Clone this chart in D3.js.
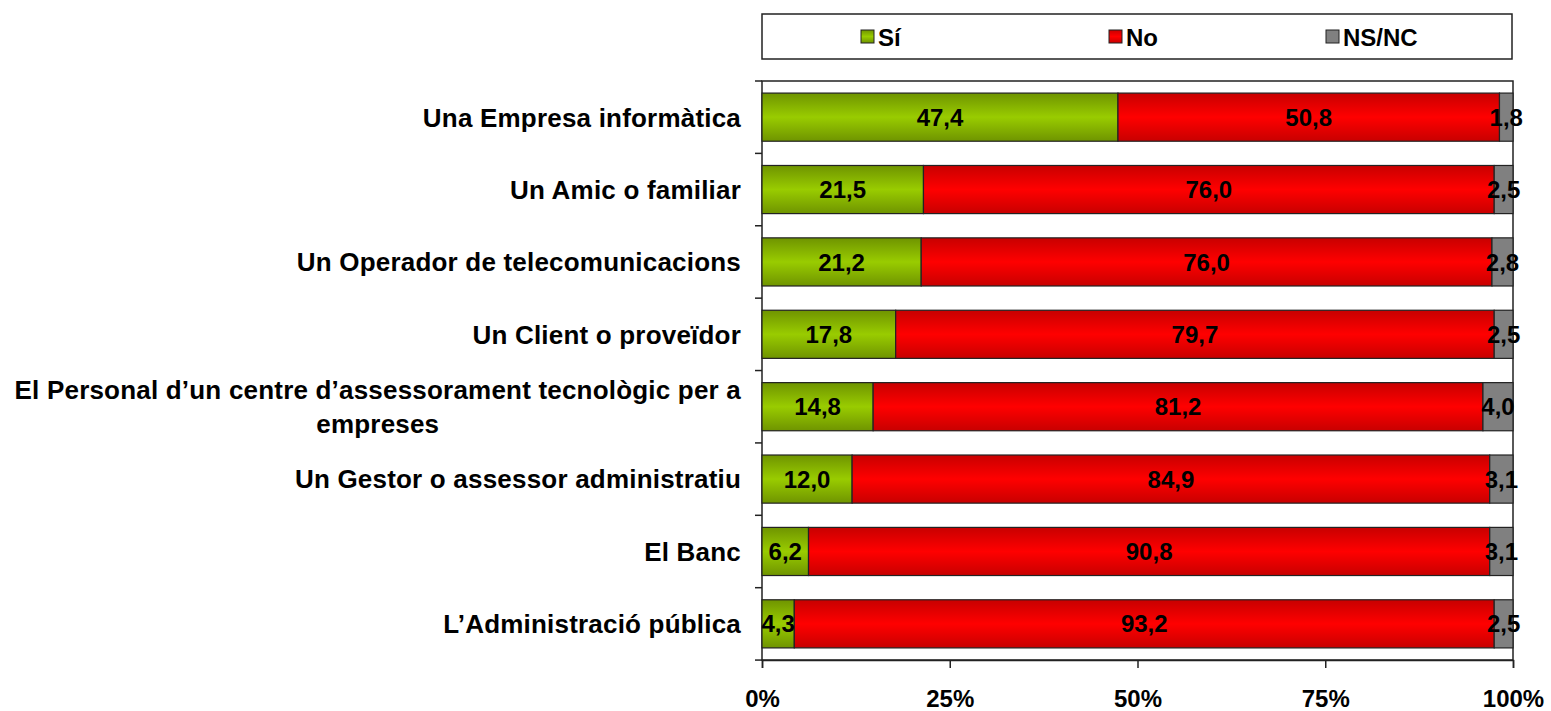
<!DOCTYPE html>
<html>
<head>
<meta charset="utf-8">
<script src="https://cdn.jsdelivr.net/npm/d3@7"></script>
<style>
  body { margin: 0; background: #fff; }
  text { font-family: "Liberation Sans", Arial, sans-serif; font-weight: bold; }
</style>
</head>
<body>
<div id="chart"></div>
<script>
// categories (top to bottom)
const categories = [
    "Una Empresa informàtica",
    "Un Amic o familiar",
    "Un Operador de telecomunicacions",
    "Un Client o proveïdor",
    "El Personal d\u2019un centre d\u2019assessorament tecnològic per a\nempreses",
    "Un Gestor o assessor administratiu",
    "El Banc",
    "L\u2019Administració pública"
];
const siValues = [47.4, 21.5, 21.2, 17.8, 14.8, 12.0, 6.2, 4.3];
const noValues = [50.8, 76.0, 76.0, 79.7, 81.2, 84.9, 90.8, 93.2];
const nsncValues = [1.8, 2.5, 2.8, 2.5, 4.0, 3.1, 3.1, 2.5];
const seriesNames = ["Sí", "No", "NS/NC"];
const xTicks = [0, 25, 50, 75, 100];

const W = 1551, H = 711;
const margin = { top: 81, right: 38, bottom: 51, left: 762 };
const width = W - margin.left - margin.right;
const height = H - margin.top - margin.bottom;

const svg = d3.select("#chart").append("svg")
    .attr("width", W)
    .attr("height", H);

// gradients for the bar fills
const defs = svg.append("defs");
function vGrad(id, edge, mid) {
    const g = defs.append("linearGradient").attr("id", id)
        .attr("x1", 0).attr("y1", 0).attr("x2", 0).attr("y2", 1);
    g.append("stop").attr("offset", "0%").attr("stop-color", edge);
    g.append("stop").attr("offset", "50%").attr("stop-color", mid);
    g.append("stop").attr("offset", "100%").attr("stop-color", edge);
}
vGrad("gSi", "#6f9400", "#99cc00");
vGrad("gNo", "#c80000", "#ff0000");
vGrad("gNs", "#808080", "#808080");
const fills = ["url(#gSi)", "url(#gNo)", "url(#gNs)"];
const legendFills = ["url(#gSi)", "url(#gNo)", "#808080"];

const g = svg.append("g").attr("transform", `translate(${margin.left},${margin.top})`);

const x = d3.scaleLinear().domain([0, 100]).range([0, width]);
const y = d3.scaleBand().domain(categories).range([0, height]).paddingInner(0.335).paddingOuter(0.167);

// stacked rows (100% stacked)
const rows = categories.map((c, i) => {
    const vals = [siValues[i], noValues[i], nsncValues[i]];
    const total = d3.sum(vals);
    let cum = 0;
    return vals.map((v, k) => {
        const seg = { cat: c, k: k, v: v, x0: cum / total * 100, x1: (cum + v) / total * 100 };
        cum += v;
        return seg;
    });
});

// frame
g.append("rect")
    .attr("x", 0).attr("y", 0)
    .attr("width", width).attr("height", height)
    .attr("fill", "none").attr("stroke", "#222").attr("stroke-width", 1.5);

// y ticks at band boundaries
const step = y.step();
const yTickPos = d3.range(categories.length + 1).map(i => y(categories[0]) - y.paddingOuter() * step + i * step);
g.selectAll(".ytick").data(yTickPos).join("line")
    .attr("x1", -7).attr("x2", 0)
    .attr("y1", d => d).attr("y2", d => d)
    .attr("stroke", "#222").attr("stroke-width", 1.5);

// x axis
const xAxis = d3.axisBottom(x).tickValues(xTicks).tickFormat(d => d + "%").tickSize(8).tickPadding(22);
const xg = g.append("g").attr("transform", `translate(0,${height})`).call(xAxis);
xg.select(".domain").attr("stroke", "#222").attr("stroke-width", 1.5);
xg.selectAll(".tick line").attr("stroke", "#222").attr("stroke-width", 1.5);
xg.selectAll(".tick text").attr("font-size", 24).attr("fill", "#000")
    .style("font-family", '"Liberation Sans", Arial, sans-serif')
    .style("font-weight", "bold");

// bars
const rowG = g.selectAll(".row").data(rows).join("g").attr("class", "row");
rowG.selectAll("rect").data(d => d).join("rect")
    .attr("x", d => x(d.x0))
    .attr("y", d => y(d.cat))
    .attr("width", d => x(d.x1) - x(d.x0))
    .attr("height", y.bandwidth())
    .attr("fill", d => fills[d.k])
    .attr("stroke", "#222").attr("stroke-width", 1.2);

rowG.selectAll("text").data(d => d).join("text")
    .attr("x", d => (x(d.x0) + x(d.x1)) / 2)
    .attr("y", d => y(d.cat) + y.bandwidth() / 2)
    .attr("dy", "0.36em")
    .attr("text-anchor", "middle")
    .attr("font-size", 24)
    .attr("fill", "#000")
    .text(d => d3.format(".1f")(d.v).replace(".", ","));

// category labels (multi-line ones centred on their widest line)
const labelG = g.selectAll(".cat").data(categories).join("text")
    .attr("class", "cat")
    .attr("text-anchor", "middle")
    .attr("font-size", 26)
    .style("letter-spacing", "0.2px")
    .attr("fill", "#000");
labelG.each(function (d) {
    const lines = d.split("\n");
    const t = d3.select(this);
    const cy = y(d) + y.bandwidth() / 2;
    const lh = 34;
    lines.forEach((ln, i) => {
        t.append("tspan")
            .attr("x", -21)
            .attr("y", cy + (i - (lines.length - 1) / 2) * lh)
            .attr("dy", "0.36em")
            .text(ln);
    });
    let maxW = 0;
    t.selectAll("tspan").each(function () { maxW = Math.max(maxW, this.getComputedTextLength()); });
    t.selectAll("tspan").attr("x", -21 - maxW / 2);
});

// legend
const lg = svg.append("g").attr("transform", "translate(762,14)");
lg.append("rect").attr("width", 750).attr("height", 45)
    .attr("fill", "#fff").attr("stroke", "#222").attr("stroke-width", 1.5);
const legendX = [99, 347, 564];
const li = lg.selectAll(".li").data(seriesNames).join("g")
    .attr("transform", (d, i) => `translate(${legendX[i]},16)`);
li.append("rect").attr("width", 13).attr("height", 13)
    .attr("fill", (d, i) => legendFills[i]).attr("stroke", "#222").attr("stroke-width", 1);
li.append("text").attr("x", 17).attr("y", 7).attr("dy", "0.36em")
    .attr("font-size", 24).attr("fill", "#000")
    .text(d => d);
</script>
</body>
</html>
